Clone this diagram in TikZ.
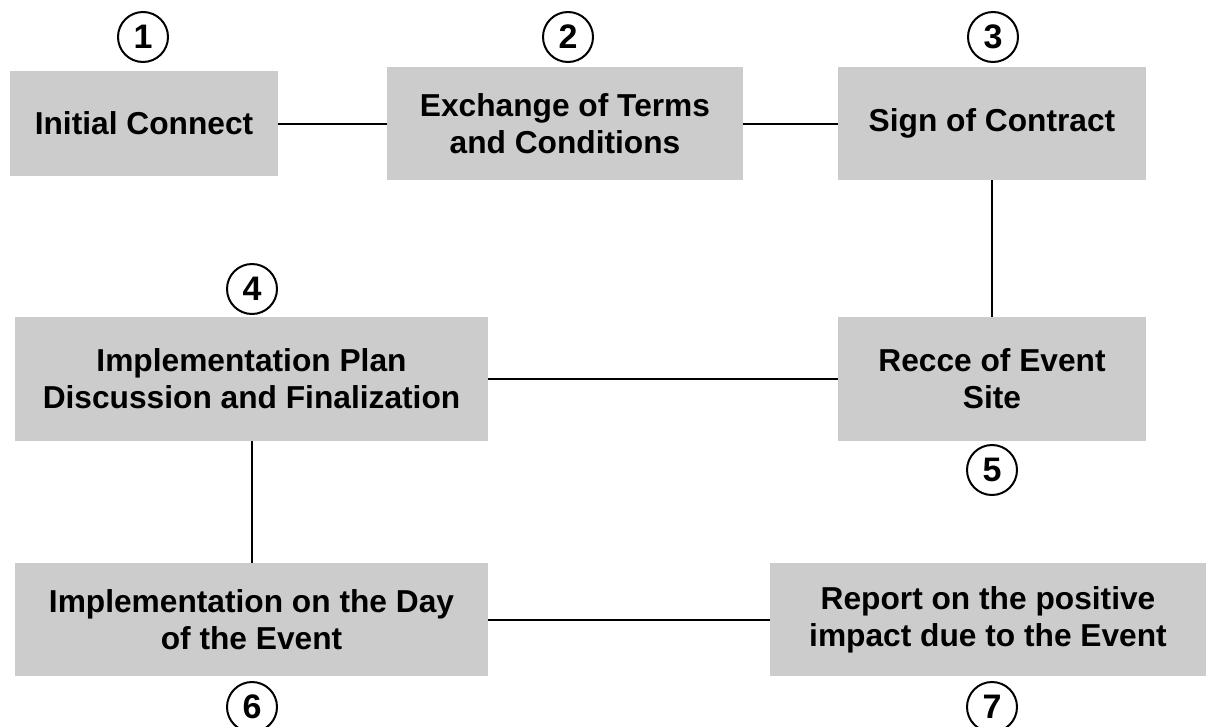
\documentclass[tikz,border=0pt]{standalone}
\usepackage{fontspec}
\setmainfont{Liberation Sans}
\definecolor{boxgray}{HTML}{CCCCCC}
\begin{document}
\begin{tikzpicture}[x=1pt,y=-1pt,
  stepbox/.style={rectangle, fill=boxgray, inner sep=0pt, align=center,
    font=\fontsize{31.7}{37}\selectfont\bfseries},
  numcircle/.style={circle, draw=black, line width=2pt, minimum size=50pt, inner sep=0pt,
    font=\fontsize{34}{38}\selectfont\bfseries},
  link/.style={draw=black, line width=2pt}]
\useasboundingbox (0,0) rectangle (1206,726);
% boxes
\node[stepbox, minimum width=268pt, minimum height=105pt] (b1) at (144,123.5) {Initial Connect};
\node[stepbox, minimum width=356pt, minimum height=113pt] (b2) at (565,123.5) {Exchange of Terms\\and Conditions};
\node[stepbox, minimum width=308pt, minimum height=113pt] (b3) at (992,123.5) {Sign of Contract};
\node[stepbox, minimum width=473pt, minimum height=124pt] (b4) at (251.5,379) {Implementation Plan\\Discussion and Finalization};
\node[stepbox, minimum width=308pt, minimum height=124pt] (b5) at (992,379) {Recce of Event\\Site};
\node[stepbox, minimum width=473pt, minimum height=113pt] (b6) at (251.5,619.5) {Implementation on the Day\\of the Event};
\node[stepbox, minimum width=436pt, minimum height=113pt] (b7) at (988,619.5) {Report on the positive\\impact due to the Event};
% numbers
\node[numcircle] (n1) at (143,37) {1};
\node[numcircle] (n2) at (568,37) {2};
\node[numcircle] (n3) at (993,37) {3};
\node[numcircle] (n4) at (252,289) {4};
\node[numcircle] (n5) at (992,470) {5};
\node[numcircle] (n6) at (252,707) {6};
\node[numcircle] (n7) at (992,707) {7};
% connectors
\draw[link] (b1.east) -- (b2.west);
\draw[link] (b2.east) -- (b3.west);
\draw[link] (b3.south) -- (b5.north);
\draw[link] (b4.east) -- (b5.west);
\draw[link] (b4.south) -- (b6.north);
\draw[link] (b6.east) -- (b7.west);
\end{tikzpicture}
\end{document}
